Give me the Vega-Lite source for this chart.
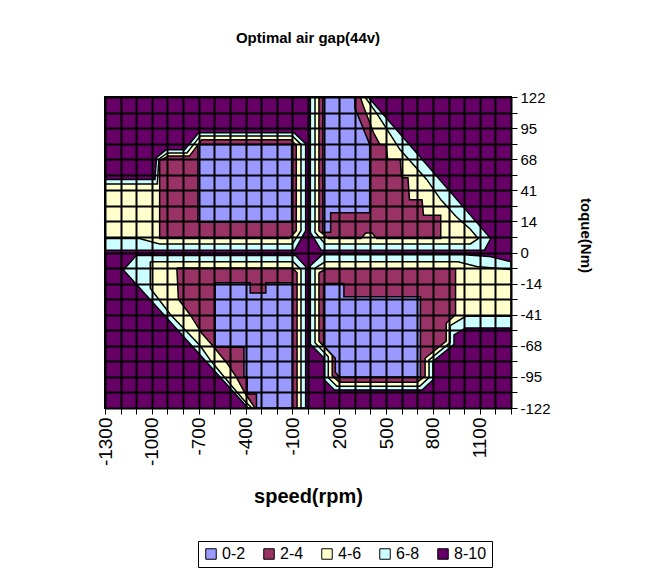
{
  "$schema": "https://vega.github.io/schema/vega-lite/v6.json",
  "width": 406,
  "height": 311,
  "autosize": {"type": "none"},
  "padding": {"left": 105, "top": 97, "right": 141, "bottom": 174},
  "background": "white",
  "title": {"text": "Optimal air gap(44v)", "font": "Liberation Sans", "fontSize": 15, "fontWeight": "bold", "color": "black", "anchor": "middle", "offset": 44},
  "config": {
    "view": {"stroke": "black", "strokeWidth": 2},
    "axis": {"domainColor": "black", "tickColor": "black", "labelColor": "black", "titleColor": "black", "gridColor": "black", "gridOpacity": 1, "gridWidth": 2, "labelFont": "Liberation Sans", "titleFont": "Liberation Sans", "labelFontSize": 15, "titleFontSize": 15, "titleFontWeight": "bold", "labelOverlap": false, "labelBound": false, "labelFlush": false}
  },
  "datasets": {
    "field": [{"rpm": -1300, "rpm2": 1300, "row": 0, "row2": 20, "band": "8-10"}],
    "contours": [
      {"poly": "UL-c", "band": "6-8", "k": 0, "rpm": -1300, "row": 5.3},
      {"poly": "UL-c", "band": "6-8", "k": 1, "rpm": -980, "row": 5.3},
      {"poly": "UL-c", "band": "6-8", "k": 2, "rpm": -970, "row": 3.9},
      {"poly": "UL-c", "band": "6-8", "k": 3, "rpm": -910, "row": 3.4},
      {"poly": "UL-c", "band": "6-8", "k": 4, "rpm": -790, "row": 3.4},
      {"poly": "UL-c", "band": "6-8", "k": 5, "rpm": -700, "row": 2.3},
      {"poly": "UL-c", "band": "6-8", "k": 6, "rpm": -90, "row": 2.3},
      {"poly": "UL-c", "band": "6-8", "k": 7, "rpm": -15, "row": 3.0},
      {"poly": "UL-c", "band": "6-8", "k": 8, "rpm": -15, "row": 8.6},
      {"poly": "UL-c", "band": "6-8", "k": 9, "rpm": -85, "row": 9.85},
      {"poly": "UL-c", "band": "6-8", "k": 10, "rpm": -1300, "row": 9.85},
      {"poly": "UL-c", "band": "6-8", "k": 11, "rpm": -1300, "row": 5.3},

      {"poly": "UL-y", "band": "4-6", "k": 0, "rpm": -1300, "row": 5.6},
      {"poly": "UL-y", "band": "4-6", "k": 1, "rpm": -965, "row": 5.6},
      {"poly": "UL-y", "band": "4-6", "k": 2, "rpm": -955, "row": 4.0},
      {"poly": "UL-y", "band": "4-6", "k": 3, "rpm": -900, "row": 3.6},
      {"poly": "UL-y", "band": "4-6", "k": 4, "rpm": -775, "row": 3.6},
      {"poly": "UL-y", "band": "4-6", "k": 5, "rpm": -690, "row": 2.5},
      {"poly": "UL-y", "band": "4-6", "k": 6, "rpm": -100, "row": 2.5},
      {"poly": "UL-y", "band": "4-6", "k": 7, "rpm": -45, "row": 3.05},
      {"poly": "UL-y", "band": "4-6", "k": 8, "rpm": -45, "row": 8.6},
      {"poly": "UL-y", "band": "4-6", "k": 9, "rpm": -100, "row": 9.45},
      {"poly": "UL-y", "band": "4-6", "k": 10, "rpm": -950, "row": 9.45},
      {"poly": "UL-y", "band": "4-6", "k": 11, "rpm": -1080, "row": 9.1},
      {"poly": "UL-y", "band": "4-6", "k": 12, "rpm": -1300, "row": 9.1},
      {"poly": "UL-y", "band": "4-6", "k": 13, "rpm": -1300, "row": 5.6},

      {"poly": "UL-m", "band": "2-4", "k": 0, "rpm": -950, "row": 4.1},
      {"poly": "UL-m", "band": "2-4", "k": 1, "rpm": -895, "row": 3.8},
      {"poly": "UL-m", "band": "2-4", "k": 2, "rpm": -760, "row": 3.8},
      {"poly": "UL-m", "band": "2-4", "k": 3, "rpm": -680, "row": 2.75},
      {"poly": "UL-m", "band": "2-4", "k": 4, "rpm": -110, "row": 2.75},
      {"poly": "UL-m", "band": "2-4", "k": 5, "rpm": -75, "row": 3.1},
      {"poly": "UL-m", "band": "2-4", "k": 6, "rpm": -75, "row": 8.6},
      {"poly": "UL-m", "band": "2-4", "k": 7, "rpm": -120, "row": 9.1},
      {"poly": "UL-m", "band": "2-4", "k": 8, "rpm": -950, "row": 9.1},
      {"poly": "UL-m", "band": "2-4", "k": 9, "rpm": -950, "row": 4.1},

      {"poly": "UL-b", "band": "0-2", "k": 0, "rpm": -705, "row": 3.05},
      {"poly": "UL-b", "band": "0-2", "k": 1, "rpm": -105, "row": 3.05},
      {"poly": "UL-b", "band": "0-2", "k": 2, "rpm": -105, "row": 8.05},
      {"poly": "UL-b", "band": "0-2", "k": 3, "rpm": -705, "row": 8.05},
      {"poly": "UL-b", "band": "0-2", "k": 4, "rpm": -705, "row": 3.05},

      {"poly": "UR-c", "band": "6-8", "k": 0, "rpm": 15, "row": 0},
      {"poly": "UR-c", "band": "6-8", "k": 1, "rpm": 385, "row": 0},
      {"poly": "UR-c", "band": "6-8", "k": 2, "rpm": 1170, "row": 9.1},
      {"poly": "UR-c", "band": "6-8", "k": 3, "rpm": 1130, "row": 9.85},
      {"poly": "UR-c", "band": "6-8", "k": 4, "rpm": 85, "row": 9.85},
      {"poly": "UR-c", "band": "6-8", "k": 5, "rpm": 15, "row": 8.7},
      {"poly": "UR-c", "band": "6-8", "k": 6, "rpm": 15, "row": 0},

      {"poly": "UR-y", "band": "4-6", "k": 0, "rpm": 45, "row": 0},
      {"poly": "UR-y", "band": "4-6", "k": 1, "rpm": 365, "row": 0},
      {"poly": "UR-y", "band": "4-6", "k": 2, "rpm": 440, "row": 1.05},
      {"poly": "UR-y", "band": "4-6", "k": 3, "rpm": 590, "row": 3.4},
      {"poly": "UR-y", "band": "4-6", "k": 4, "rpm": 760, "row": 5.3},
      {"poly": "UR-y", "band": "4-6", "k": 5, "rpm": 850, "row": 6.6},
      {"poly": "UR-y", "band": "4-6", "k": 6, "rpm": 950, "row": 7.7},
      {"poly": "UR-y", "band": "4-6", "k": 7, "rpm": 1040, "row": 8.5},
      {"poly": "UR-y", "band": "4-6", "k": 8, "rpm": 1090, "row": 9.1},
      {"poly": "UR-y", "band": "4-6", "k": 9, "rpm": 1040, "row": 9.45},
      {"poly": "UR-y", "band": "4-6", "k": 10, "rpm": 110, "row": 9.45},
      {"poly": "UR-y", "band": "4-6", "k": 11, "rpm": 45, "row": 8.7},
      {"poly": "UR-y", "band": "4-6", "k": 12, "rpm": 45, "row": 0},

      {"poly": "UR-m", "band": "2-4", "k": 0, "rpm": 70, "row": 0},
      {"poly": "UR-m", "band": "2-4", "k": 1, "rpm": 335, "row": 0},
      {"poly": "UR-m", "band": "2-4", "k": 2, "rpm": 355, "row": 0.6},
      {"poly": "UR-m", "band": "2-4", "k": 3, "rpm": 420, "row": 2.3},
      {"poly": "UR-m", "band": "2-4", "k": 4, "rpm": 460, "row": 3.05},
      {"poly": "UR-m", "band": "2-4", "k": 5, "rpm": 500, "row": 3.05},
      {"poly": "UR-m", "band": "2-4", "k": 6, "rpm": 510, "row": 4.0},
      {"poly": "UR-m", "band": "2-4", "k": 7, "rpm": 590, "row": 4.0},
      {"poly": "UR-m", "band": "2-4", "k": 8, "rpm": 600, "row": 5.2},
      {"poly": "UR-m", "band": "2-4", "k": 9, "rpm": 640, "row": 5.2},
      {"poly": "UR-m", "band": "2-4", "k": 10, "rpm": 650, "row": 6.6},
      {"poly": "UR-m", "band": "2-4", "k": 11, "rpm": 730, "row": 6.6},
      {"poly": "UR-m", "band": "2-4", "k": 12, "rpm": 740, "row": 7.6},
      {"poly": "UR-m", "band": "2-4", "k": 13, "rpm": 850, "row": 7.6},
      {"poly": "UR-m", "band": "2-4", "k": 14, "rpm": 850, "row": 9.1},
      {"poly": "UR-m", "band": "2-4", "k": 15, "rpm": 440, "row": 9.1},
      {"poly": "UR-m", "band": "2-4", "k": 16, "rpm": 410, "row": 8.75},
      {"poly": "UR-m", "band": "2-4", "k": 17, "rpm": 370, "row": 8.75},
      {"poly": "UR-m", "band": "2-4", "k": 18, "rpm": 340, "row": 9.1},
      {"poly": "UR-m", "band": "2-4", "k": 19, "rpm": 130, "row": 9.1},
      {"poly": "UR-m", "band": "2-4", "k": 20, "rpm": 70, "row": 8.6},
      {"poly": "UR-m", "band": "2-4", "k": 21, "rpm": 70, "row": 0},

      {"poly": "UR-b", "band": "0-2", "k": 0, "rpm": 95, "row": 0},
      {"poly": "UR-b", "band": "0-2", "k": 1, "rpm": 300, "row": 0},
      {"poly": "UR-b", "band": "0-2", "k": 2, "rpm": 300, "row": 0.7},
      {"poly": "UR-b", "band": "0-2", "k": 3, "rpm": 395, "row": 3.05},
      {"poly": "UR-b", "band": "0-2", "k": 4, "rpm": 395, "row": 7.45},
      {"poly": "UR-b", "band": "0-2", "k": 5, "rpm": 145, "row": 7.45},
      {"poly": "UR-b", "band": "0-2", "k": 6, "rpm": 145, "row": 8.7},
      {"poly": "UR-b", "band": "0-2", "k": 7, "rpm": 95, "row": 8.7},
      {"poly": "UR-b", "band": "0-2", "k": 8, "rpm": 95, "row": 0},

      {"poly": "LL-c", "band": "6-8", "k": 0, "rpm": -1182, "row": 11.13},
      {"poly": "LL-c", "band": "6-8", "k": 1, "rpm": -1100, "row": 10.2},
      {"poly": "LL-c", "band": "6-8", "k": 2, "rpm": -80, "row": 10.2},
      {"poly": "LL-c", "band": "6-8", "k": 3, "rpm": -15, "row": 10.9},
      {"poly": "LL-c", "band": "6-8", "k": 4, "rpm": -15, "row": 20},
      {"poly": "LL-c", "band": "6-8", "k": 5, "rpm": -384, "row": 20},
      {"poly": "LL-c", "band": "6-8", "k": 6, "rpm": -1182, "row": 11.13},

      {"poly": "LL-y", "band": "4-6", "k": 0, "rpm": -1010, "row": 10.6},
      {"poly": "LL-y", "band": "4-6", "k": 1, "rpm": -95, "row": 10.6},
      {"poly": "LL-y", "band": "4-6", "k": 2, "rpm": -45, "row": 11.1},
      {"poly": "LL-y", "band": "4-6", "k": 3, "rpm": -45, "row": 20},
      {"poly": "LL-y", "band": "4-6", "k": 4, "rpm": -360, "row": 20},
      {"poly": "LL-y", "band": "4-6", "k": 5, "rpm": -410, "row": 19.5},
      {"poly": "LL-y", "band": "4-6", "k": 6, "rpm": -495, "row": 18.5},
      {"poly": "LL-y", "band": "4-6", "k": 7, "rpm": -620, "row": 17.0},
      {"poly": "LL-y", "band": "4-6", "k": 8, "rpm": -690, "row": 16.0},
      {"poly": "LL-y", "band": "4-6", "k": 9, "rpm": -880, "row": 14.0},
      {"poly": "LL-y", "band": "4-6", "k": 10, "rpm": -1010, "row": 12.3},
      {"poly": "LL-y", "band": "4-6", "k": 11, "rpm": -1010, "row": 10.6},

      {"poly": "LL-m", "band": "2-4", "k": 0, "rpm": -840, "row": 11.0},
      {"poly": "LL-m", "band": "2-4", "k": 1, "rpm": -100, "row": 11.0},
      {"poly": "LL-m", "band": "2-4", "k": 2, "rpm": -70, "row": 11.3},
      {"poly": "LL-m", "band": "2-4", "k": 3, "rpm": -70, "row": 20},
      {"poly": "LL-m", "band": "2-4", "k": 4, "rpm": -340, "row": 20},
      {"poly": "LL-m", "band": "2-4", "k": 5, "rpm": -400, "row": 19.1},
      {"poly": "LL-m", "band": "2-4", "k": 6, "rpm": -460, "row": 18.0},
      {"poly": "LL-m", "band": "2-4", "k": 7, "rpm": -520, "row": 17.1},
      {"poly": "LL-m", "band": "2-4", "k": 8, "rpm": -610, "row": 16.0},
      {"poly": "LL-m", "band": "2-4", "k": 9, "rpm": -680, "row": 15.2},
      {"poly": "LL-m", "band": "2-4", "k": 10, "rpm": -755, "row": 14.0},
      {"poly": "LL-m", "band": "2-4", "k": 11, "rpm": -830, "row": 13.0},
      {"poly": "LL-m", "band": "2-4", "k": 12, "rpm": -840, "row": 11.0},

      {"poly": "LL-b", "band": "0-2", "k": 0, "rpm": -595, "row": 11.95},
      {"poly": "LL-b", "band": "0-2", "k": 1, "rpm": -370, "row": 11.95},
      {"poly": "LL-b", "band": "0-2", "k": 2, "rpm": -370, "row": 12.6},
      {"poly": "LL-b", "band": "0-2", "k": 3, "rpm": -270, "row": 12.6},
      {"poly": "LL-b", "band": "0-2", "k": 4, "rpm": -270, "row": 11.95},
      {"poly": "LL-b", "band": "0-2", "k": 5, "rpm": -100, "row": 11.95},
      {"poly": "LL-b", "band": "0-2", "k": 6, "rpm": -100, "row": 20},
      {"poly": "LL-b", "band": "0-2", "k": 7, "rpm": -330, "row": 20},
      {"poly": "LL-b", "band": "0-2", "k": 8, "rpm": -330, "row": 19.1},
      {"poly": "LL-b", "band": "0-2", "k": 9, "rpm": -390, "row": 19.1},
      {"poly": "LL-b", "band": "0-2", "k": 10, "rpm": -390, "row": 18.0},
      {"poly": "LL-b", "band": "0-2", "k": 11, "rpm": -410, "row": 18.0},
      {"poly": "LL-b", "band": "0-2", "k": 12, "rpm": -410, "row": 16.1},
      {"poly": "LL-b", "band": "0-2", "k": 13, "rpm": -595, "row": 16.1},
      {"poly": "LL-b", "band": "0-2", "k": 14, "rpm": -595, "row": 11.95},

      {"poly": "LR-c", "band": "6-8", "k": 0, "rpm": 15, "row": 10.85},
      {"poly": "LR-c", "band": "6-8", "k": 1, "rpm": 90, "row": 10.15},
      {"poly": "LR-c", "band": "6-8", "k": 2, "rpm": 1000, "row": 10.15},
      {"poly": "LR-c", "band": "6-8", "k": 3, "rpm": 1160, "row": 10.25},
      {"poly": "LR-c", "band": "6-8", "k": 4, "rpm": 1300, "row": 10.6},
      {"poly": "LR-c", "band": "6-8", "k": 5, "rpm": 1300, "row": 14.85},
      {"poly": "LR-c", "band": "6-8", "k": 6, "rpm": 1010, "row": 14.85},
      {"poly": "LR-c", "band": "6-8", "k": 7, "rpm": 935, "row": 15.3},
      {"poly": "LR-c", "band": "6-8", "k": 8, "rpm": 935, "row": 15.9},
      {"poly": "LR-c", "band": "6-8", "k": 9, "rpm": 800, "row": 17.0},
      {"poly": "LR-c", "band": "6-8", "k": 10, "rpm": 800, "row": 18.2},
      {"poly": "LR-c", "band": "6-8", "k": 11, "rpm": 730, "row": 18.85},
      {"poly": "LR-c", "band": "6-8", "k": 12, "rpm": 170, "row": 18.85},
      {"poly": "LR-c", "band": "6-8", "k": 13, "rpm": 105, "row": 18.2},
      {"poly": "LR-c", "band": "6-8", "k": 14, "rpm": 105, "row": 16.8},
      {"poly": "LR-c", "band": "6-8", "k": 15, "rpm": 15, "row": 15.9},
      {"poly": "LR-c", "band": "6-8", "k": 16, "rpm": 15, "row": 10.85},

      {"poly": "LR-y", "band": "4-6", "k": 0, "rpm": 45, "row": 11.0},
      {"poly": "LR-y", "band": "4-6", "k": 1, "rpm": 110, "row": 10.6},
      {"poly": "LR-y", "band": "4-6", "k": 2, "rpm": 960, "row": 10.6},
      {"poly": "LR-y", "band": "4-6", "k": 3, "rpm": 1080, "row": 10.9},
      {"poly": "LR-y", "band": "4-6", "k": 4, "rpm": 1300, "row": 11.1},
      {"poly": "LR-y", "band": "4-6", "k": 5, "rpm": 1300, "row": 14.1},
      {"poly": "LR-y", "band": "4-6", "k": 6, "rpm": 1010, "row": 14.1},
      {"poly": "LR-y", "band": "4-6", "k": 7, "rpm": 910, "row": 14.7},
      {"poly": "LR-y", "band": "4-6", "k": 8, "rpm": 910, "row": 15.8},
      {"poly": "LR-y", "band": "4-6", "k": 9, "rpm": 775, "row": 16.9},
      {"poly": "LR-y", "band": "4-6", "k": 10, "rpm": 775, "row": 18.05},
      {"poly": "LR-y", "band": "4-6", "k": 11, "rpm": 715, "row": 18.6},
      {"poly": "LR-y", "band": "4-6", "k": 12, "rpm": 185, "row": 18.6},
      {"poly": "LR-y", "band": "4-6", "k": 13, "rpm": 130, "row": 18.05},
      {"poly": "LR-y", "band": "4-6", "k": 14, "rpm": 130, "row": 16.7},
      {"poly": "LR-y", "band": "4-6", "k": 15, "rpm": 45, "row": 15.8},
      {"poly": "LR-y", "band": "4-6", "k": 16, "rpm": 45, "row": 11.0},

      {"poly": "LR-m", "band": "2-4", "k": 0, "rpm": 70, "row": 11.3},
      {"poly": "LR-m", "band": "2-4", "k": 1, "rpm": 120, "row": 11.05},
      {"poly": "LR-m", "band": "2-4", "k": 2, "rpm": 945, "row": 11.05},
      {"poly": "LR-m", "band": "2-4", "k": 3, "rpm": 945, "row": 14.0},
      {"poly": "LR-m", "band": "2-4", "k": 4, "rpm": 885, "row": 14.55},
      {"poly": "LR-m", "band": "2-4", "k": 5, "rpm": 885, "row": 15.7},
      {"poly": "LR-m", "band": "2-4", "k": 6, "rpm": 750, "row": 16.8},
      {"poly": "LR-m", "band": "2-4", "k": 7, "rpm": 750, "row": 17.95},
      {"poly": "LR-m", "band": "2-4", "k": 8, "rpm": 700, "row": 18.35},
      {"poly": "LR-m", "band": "2-4", "k": 9, "rpm": 200, "row": 18.35},
      {"poly": "LR-m", "band": "2-4", "k": 10, "rpm": 155, "row": 17.9},
      {"poly": "LR-m", "band": "2-4", "k": 11, "rpm": 155, "row": 16.6},
      {"poly": "LR-m", "band": "2-4", "k": 12, "rpm": 70, "row": 15.7},
      {"poly": "LR-m", "band": "2-4", "k": 13, "rpm": 70, "row": 11.3},

      {"poly": "LR-b", "band": "0-2", "k": 0, "rpm": 100, "row": 12.0},
      {"poly": "LR-b", "band": "0-2", "k": 1, "rpm": 230, "row": 12.0},
      {"poly": "LR-b", "band": "0-2", "k": 2, "rpm": 230, "row": 12.85},
      {"poly": "LR-b", "band": "0-2", "k": 3, "rpm": 720, "row": 12.85},
      {"poly": "LR-b", "band": "0-2", "k": 4, "rpm": 720, "row": 18.0},
      {"poly": "LR-b", "band": "0-2", "k": 5, "rpm": 200, "row": 18.0},
      {"poly": "LR-b", "band": "0-2", "k": 6, "rpm": 175, "row": 17.7},
      {"poly": "LR-b", "band": "0-2", "k": 7, "rpm": 175, "row": 16.8},
      {"poly": "LR-b", "band": "0-2", "k": 8, "rpm": 100, "row": 16.0},
      {"poly": "LR-b", "band": "0-2", "k": 9, "rpm": 100, "row": 12.0}
    ]
  },
  "encoding": {
    "x": {"field": "rpm", "type": "quantitative", "scale": {"domain": [-1300, 1300], "nice": false, "zero": false},
      "axis": {"title": "speed(rpm)", "values": [-1300, -1200, -1100, -1000, -900, -800, -700, -600, -500, -400, -300, -200, -100, 0, 100, 200, 300, 400, 500, 600, 700, 800, 900, 1000, 1100, 1200, 1300],
        "labelExpr": "(datum.value + 1300) % 300 == 0 ? '' + datum.value : ''", "labelAngle": -90, "labelFontSize": 19, "labelPadding": 3, "tickSize": 6, "grid": true, "zindex": 1, "titleFontSize": 20, "titleY": 88, "titleBaseline": "middle"}},
    "y": {"field": "row", "type": "quantitative", "scale": {"domain": [0, 20], "reverse": true, "nice": false, "zero": false},
      "axis": {"orient": "right", "title": "toque(Nm)", "values": [0, 1, 2, 3, 4, 5, 6, 7, 8, 9, 10, 11, 12, 13, 14, 15, 16, 17, 18, 19, 20],
        "labelExpr": "datum.value % 2 == 0 ? ['122','95','68','41','14','0','-14','-41','-68','-95','-122'][datum.value / 2] : ''", "labelPadding": 3, "tickSize": 6, "grid": true, "zindex": 1, "titleX": 74, "titleY": 138, "titleAlign": "center", "titleBaseline": "middle"}},
    "color": {"field": "band", "type": "nominal",
      "scale": {"domain": ["0-2", "2-4", "4-6", "6-8", "8-10"], "range": ["#9999FF", "#993366", "#FFFFCC", "#CCFFFF", "#660066"]},
      "legend": {"orient": "none", "legendX": 93, "legendY": 444, "direction": "horizontal", "title": null, "symbolType": "square", "symbolSize": 110, "symbolStrokeColor": "black", "symbolStrokeWidth": 1, "symbolOpacity": 1, "labelFont": "Liberation Sans", "labelFontSize": 16, "labelColor": "black", "strokeColor": "black", "fillColor": "white", "padding": 5, "columnPadding": 15, "labelOffset": 3}}
  },
  "layer": [
    {
      "data": {"name": "field"},
      "mark": {"type": "rect"},
      "encoding": {
        "x2": {"field": "rpm2"},
        "y2": {"field": "row2"}
      }
    },
    {
      "data": {"name": "contours"},
      "transform": [{"filter": "datum.band == '6-8'"}],
      "mark": {"type": "line", "filled": true, "stroke": "black", "strokeWidth": 1.5},
      "encoding": {"detail": {"field": "poly"}, "order": {"field": "k"}}
    },
    {
      "data": {"name": "contours"},
      "transform": [{"filter": "datum.band == '4-6'"}],
      "mark": {"type": "line", "filled": true, "stroke": "black", "strokeWidth": 1.5},
      "encoding": {"detail": {"field": "poly"}, "order": {"field": "k"}}
    },
    {
      "data": {"name": "contours"},
      "transform": [{"filter": "datum.band == '2-4'"}],
      "mark": {"type": "line", "filled": true, "stroke": "black", "strokeWidth": 1.5},
      "encoding": {"detail": {"field": "poly"}, "order": {"field": "k"}}
    },
    {
      "data": {"name": "contours"},
      "transform": [{"filter": "datum.band == '0-2'"}],
      "mark": {"type": "line", "filled": true, "stroke": "black", "strokeWidth": 1.5},
      "encoding": {"detail": {"field": "poly"}, "order": {"field": "k"}}
    },
    {
      "data": {"values": [{"label": "mm"}]},
      "mark": {"type": "text", "align": "right", "baseline": "middle", "dx": -17, "font": "Liberation Sans", "fontWeight": "bold"},
      "encoding": {
        "x": {"datum": -1300, "type": "quantitative"},
        "y": {"datum": 20, "type": "quantitative"},
        "color": {"value": "black"},
        "size": {"value": 20},
        "text": {"field": "label"}
      }
    }
  ]
}
